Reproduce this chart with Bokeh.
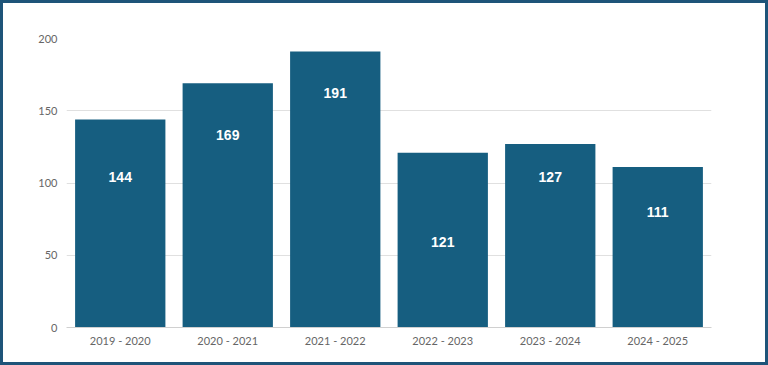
from bokeh.plotting import figure
from bokeh.models import ColumnDataSource, FixedTicker, LabelSet
from bokeh.core.properties import value
from bokeh.embed import file_html
from bokeh.resources import INLINE

seasons = ["2019 - 2020", "2020 - 2021", "2021 - 2022", "2022 - 2023", "2023 - 2024", "2024 - 2025"]
counts = [144, 169, 191, 121, 127, 111]
label_y = [104, 133.5, 162, 59, 104, 80]
y_ticks = [0, 50, 100, 150, 200]

BAR = "#165E80"

src = ColumnDataSource(dict(x=seasons, top=counts, ly=label_y, txt=[str(c) for c in counts]))

p = figure(x_range=seasons, y_range=(0, 200), width=768, height=365,
           output_backend="svg", toolbar_location=None,
           min_border_left=63, min_border_right=60, min_border_top=35, min_border_bottom=41)
p.styles = {"border": "3px solid #1E5479"}
p.outline_line_color = None
p.background_fill_color = "white"
p.border_fill_color = "white"

p.vbar(x="x", top="top", width=0.84, source=src, color=BAR, line_color=None)

labels = LabelSet(x="x", y="ly", text="txt", source=src, text_color="white",
                  text_font=value("Liberation Sans"), text_font_style="bold",
                  text_font_size="14px", text_align="center", text_baseline="middle")
p.add_layout(labels)

p.yaxis.ticker = FixedTicker(ticks=y_ticks)
p.yaxis.axis_line_color = None
p.yaxis.major_tick_line_color = None
p.yaxis.minor_tick_line_color = None
p.yaxis.major_label_text_color = "#666666"
p.yaxis.major_label_text_font = "Lato"
p.yaxis.major_label_text_font_size = "11px"
p.yaxis.major_label_standoff = 3

p.xaxis.axis_line_color = "#d0d0d0"
p.xaxis.major_tick_line_color = None
p.xaxis.minor_tick_line_color = None
p.xaxis.major_label_text_color = "#666666"
p.xaxis.major_label_text_font = "Lato"
p.xaxis.major_label_text_font_size = "11px"
p.xaxis.major_label_standoff = 0

p.xgrid.grid_line_color = None
p.ygrid.grid_line_color = "#e0e0e0"
p.ygrid.ticker = FixedTicker(ticks=y_ticks)

open("out.html", "w").write(file_html(p, INLINE))
